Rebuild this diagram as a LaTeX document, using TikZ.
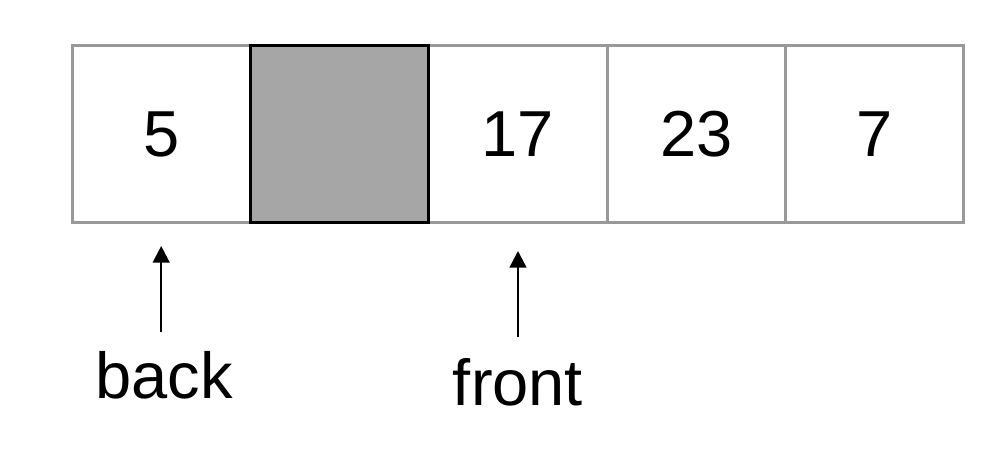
\documentclass[tikz,border=0pt]{standalone}
\usepackage{fontspec}
\setmainfont{Liberation Sans}
\usetikzlibrary{arrows.meta,positioning}
\definecolor{slotgray}{HTML}{999999}
\definecolor{usedgray}{HTML}{A6A6A6}
\tikzset{
  >={Triangle[length=9.5pt,width=9.5pt]},
  slot/.style ={draw=slotgray, line width=1.7pt, minimum width=3.568cm, minimum height=3.56cm,
                inner sep=0pt, outer sep=0pt, font=\fontsize{37pt}{40pt}\selectfont},
  used/.style ={slot, draw=black, fill=usedgray},
  lbl/.style  ={inner sep=0pt, anchor=base, font=\fontsize{37pt}{40pt}\selectfont},
  ptr/.style  ={->, line width=1.4pt}
}
\begin{document}
\begin{tikzpicture}[x=0.02cm, y=-0.02cm]
\useasboundingbox (0,0) rectangle (998,454);
% the queue cells
\node[slot] (c1) at (161.2,134) {5};
\node[slot] (c3) at (518,134) {17};
\node[slot] (c4) at (696.4,134) {23};
\node[slot] (c5) at (874.8,134) {7};
\node[used] (c2) at (339.6,134) {};
% pointers
\node[lbl] (back) at (164,398) {back};
\node[lbl] (front) at (518,405) {front};
\draw[ptr, shorten <=0.38cm, shorten >=0.46cm] (back.north -| c1.south) -- (c1.south);
\draw[ptr, shorten <=0.42cm, shorten >=0.56cm] (front.north -| c3.south) -- (c3.south);
\end{tikzpicture}
\end{document}
